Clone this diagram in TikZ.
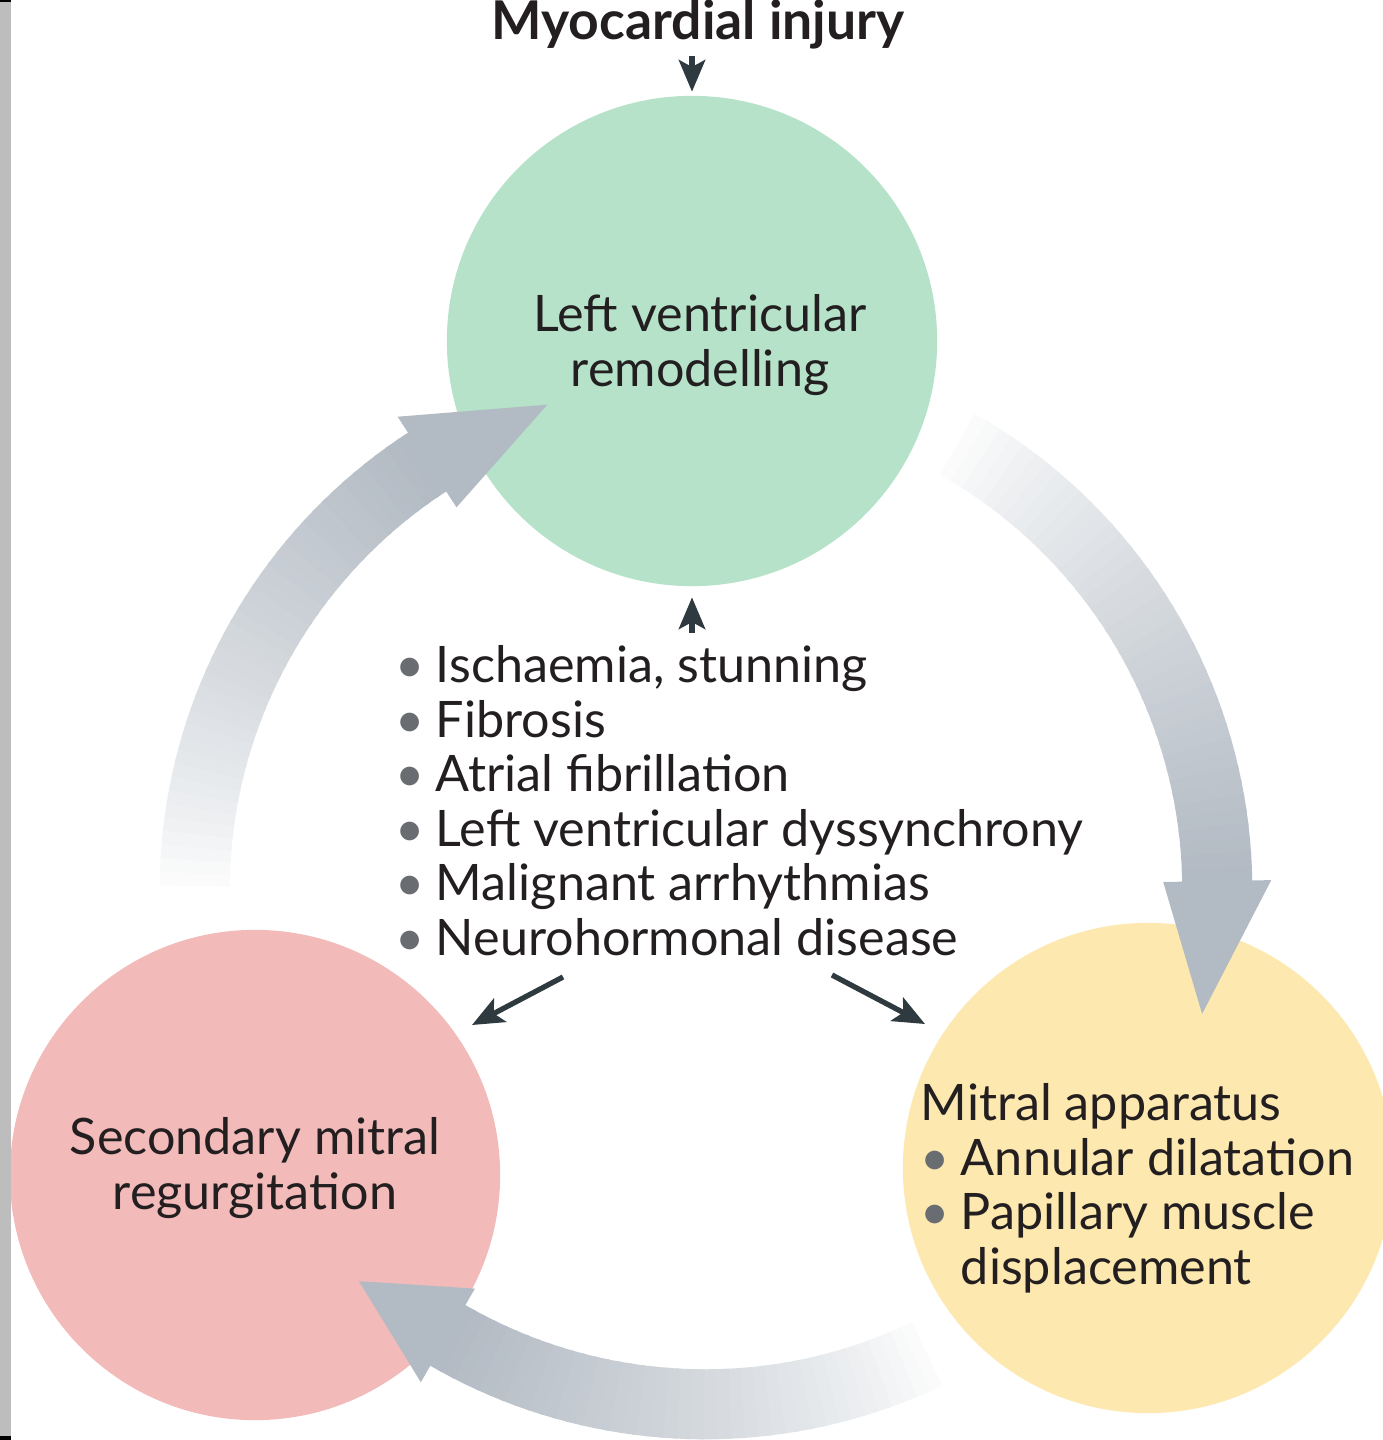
\documentclass[tikz,border=0pt]{standalone}
\usepackage{fontspec}
\setmainfont{Lato}
\usetikzlibrary{calc,arrows.meta}
\definecolor{lvgreen}{RGB}{181,226,200}
\definecolor{mrred}{RGB}{242,187,186}
\definecolor{mayellow}{RGB}{253,232,176}
\definecolor{ink}{RGB}{35,31,32}
\definecolor{darrow}{RGB}{46,58,64}
\definecolor{bulgray}{RGB}{105,108,112}
\definecolor{arrowgray}{RGB}{178,186,195}
\definecolor{stripgray}{RGB}{189,189,189}
\newcommand{\bul}{\textcolor{bulgray}{•}\hspace{0.22em}}
\newcommand{\nobul}{\phantom{•}\hspace{0.22em}}
\begin{document}
\begin{tikzpicture}[x=0.01cm,y=0.01cm,
  txt/.style={text=ink, font=\fontsize{14.3}{15.5}\selectfont, inner sep=0pt},
  bub/.style={circle, inner sep=0pt, minimum size=4.9cm},
  darr/.style={draw=darrow, line width=1.5pt, -{Stealth[length=9pt,width=7.5pt,inset=2pt]}},
]
\useasboundingbox (0,0) rectangle (1383,-1440);
\fill[white] (0,0) rectangle (1383,-1440);

% circles
\node[bub, fill=lvgreen] (lv) at (692,-341) {};
\node[bub, fill=mrred] (mr) at (255,-1175) {};
\node[bub, fill=mayellow] (ma) at (1148,-1168) {};

% big gray cycle arrows
\coordinate (C) at (705,-890);
% left arrow (to LV)
\foreach \i in {1,...,40}{
  \pgfmathsetmacro\sa{181+(123-181)*(\i-1)/40}
  \pgfmathsetmacro\ea{181+(123-181)*\i/40-0.4}
  \pgfmathsetmacro\p{100*((\i-1)/39)^0.8}
  \draw[line width=0.70cm, draw=arrowgray!\p!white] ($(C)+(\sa:5.10cm)$) arc[start angle=\sa, end angle=\ea, radius=5.10cm];
}
\fill[arrowgray] ($(C)+(123:4.56cm)$) -- ($(C)+(108:5.10cm)$) -- ($(C)+(123:5.64cm)$) -- cycle;
% right arrow (to mitral apparatus)
\foreach \i in {1,...,40}{
  \pgfmathsetmacro\sa{62+(1-62)*(\i-1)/40}
  \pgfmathsetmacro\ea{62+(1-62)*\i/40-0.4}
  \pgfmathsetmacro\p{100*((\i-1)/39)^0.8}
  \draw[line width=0.70cm, draw=arrowgray!\p!white] ($(C)+(\sa:5.12cm)$) arc[start angle=\sa, end angle=\ea, radius=5.12cm];
}
\fill[arrowgray] ($(C)+(1:4.58cm)$) -- ($(C)+(-14:5.12cm)$) -- ($(C)+(1:5.66cm)$) -- cycle;
% bottom arrow (to SMR)
\foreach \i in {1,...,40}{
  \pgfmathsetmacro\sa{297+(240-297)*(\i-1)/40}
  \pgfmathsetmacro\ea{297+(240-297)*\i/40-0.4}
  \pgfmathsetmacro\p{100*((\i-1)/39)^0.8}
  \draw[line width=0.70cm, draw=arrowgray!\p!white] ($(C)+(\sa:5.14cm)$) arc[start angle=\sa, end angle=\ea, radius=5.14cm];
}
\fill[arrowgray] ($(C)+(240:4.60cm)$) -- ($(C)+(228.5:5.22cm)$) -- ($(C)+(240:5.68cm)$) -- cycle;

% texts
\node[text=ink, inner sep=0pt, font=\fontsize{15.2}{18}\selectfont\bfseries] (injury) at (698,-24) {Myocardial injury};
\node[txt, align=center] (lvtext) at (700,-345) {Left ventricular\\remodelling};
\node[txt, align=center] (mrtext) at (255,-1168) {Secondary mitral\\regurgitation};
\node[txt, align=left, anchor=north west] (matext) at (920,-1083) {Mitral apparatus\\\bul Annular dilatation\\\bul Papillary muscle\\\nobul displacement};
\node[txt, align=left, anchor=north west] (causes) at (395,-645) {\bul Ischaemia, stunning\\\bul Fibrosis\\\bul Atrial fibrillation\\\bul Left ventricular dyssynchrony\\\bul Malignant arrhythmias\\\bul Neurohormonal disease};

% dark arrows
\draw[darr, shorten <=2pt, shorten >=1pt] (injury.south -| lv.north) -- (lv.north);
\draw[darr, shorten <=3.5pt, shorten >=3pt] (lv.south |- causes.north) -- (lv.south);
\coordinate (cl) at (563,-977);
\coordinate (clend) at (472,-1025);
\coordinate (cr) at (832,-975);
\coordinate (crend) at (925,-1024);
\draw[darr] (cl) -- (clend);
\draw[darr] (cr) -- (crend);

% left strip
\fill[stripgray] (0,0) rectangle (11,-1440);
\fill[black] (0,0) rectangle (11,-2);
\fill[black] (0,-1436) rectangle (11,-1440);
\end{tikzpicture}
\end{document}
